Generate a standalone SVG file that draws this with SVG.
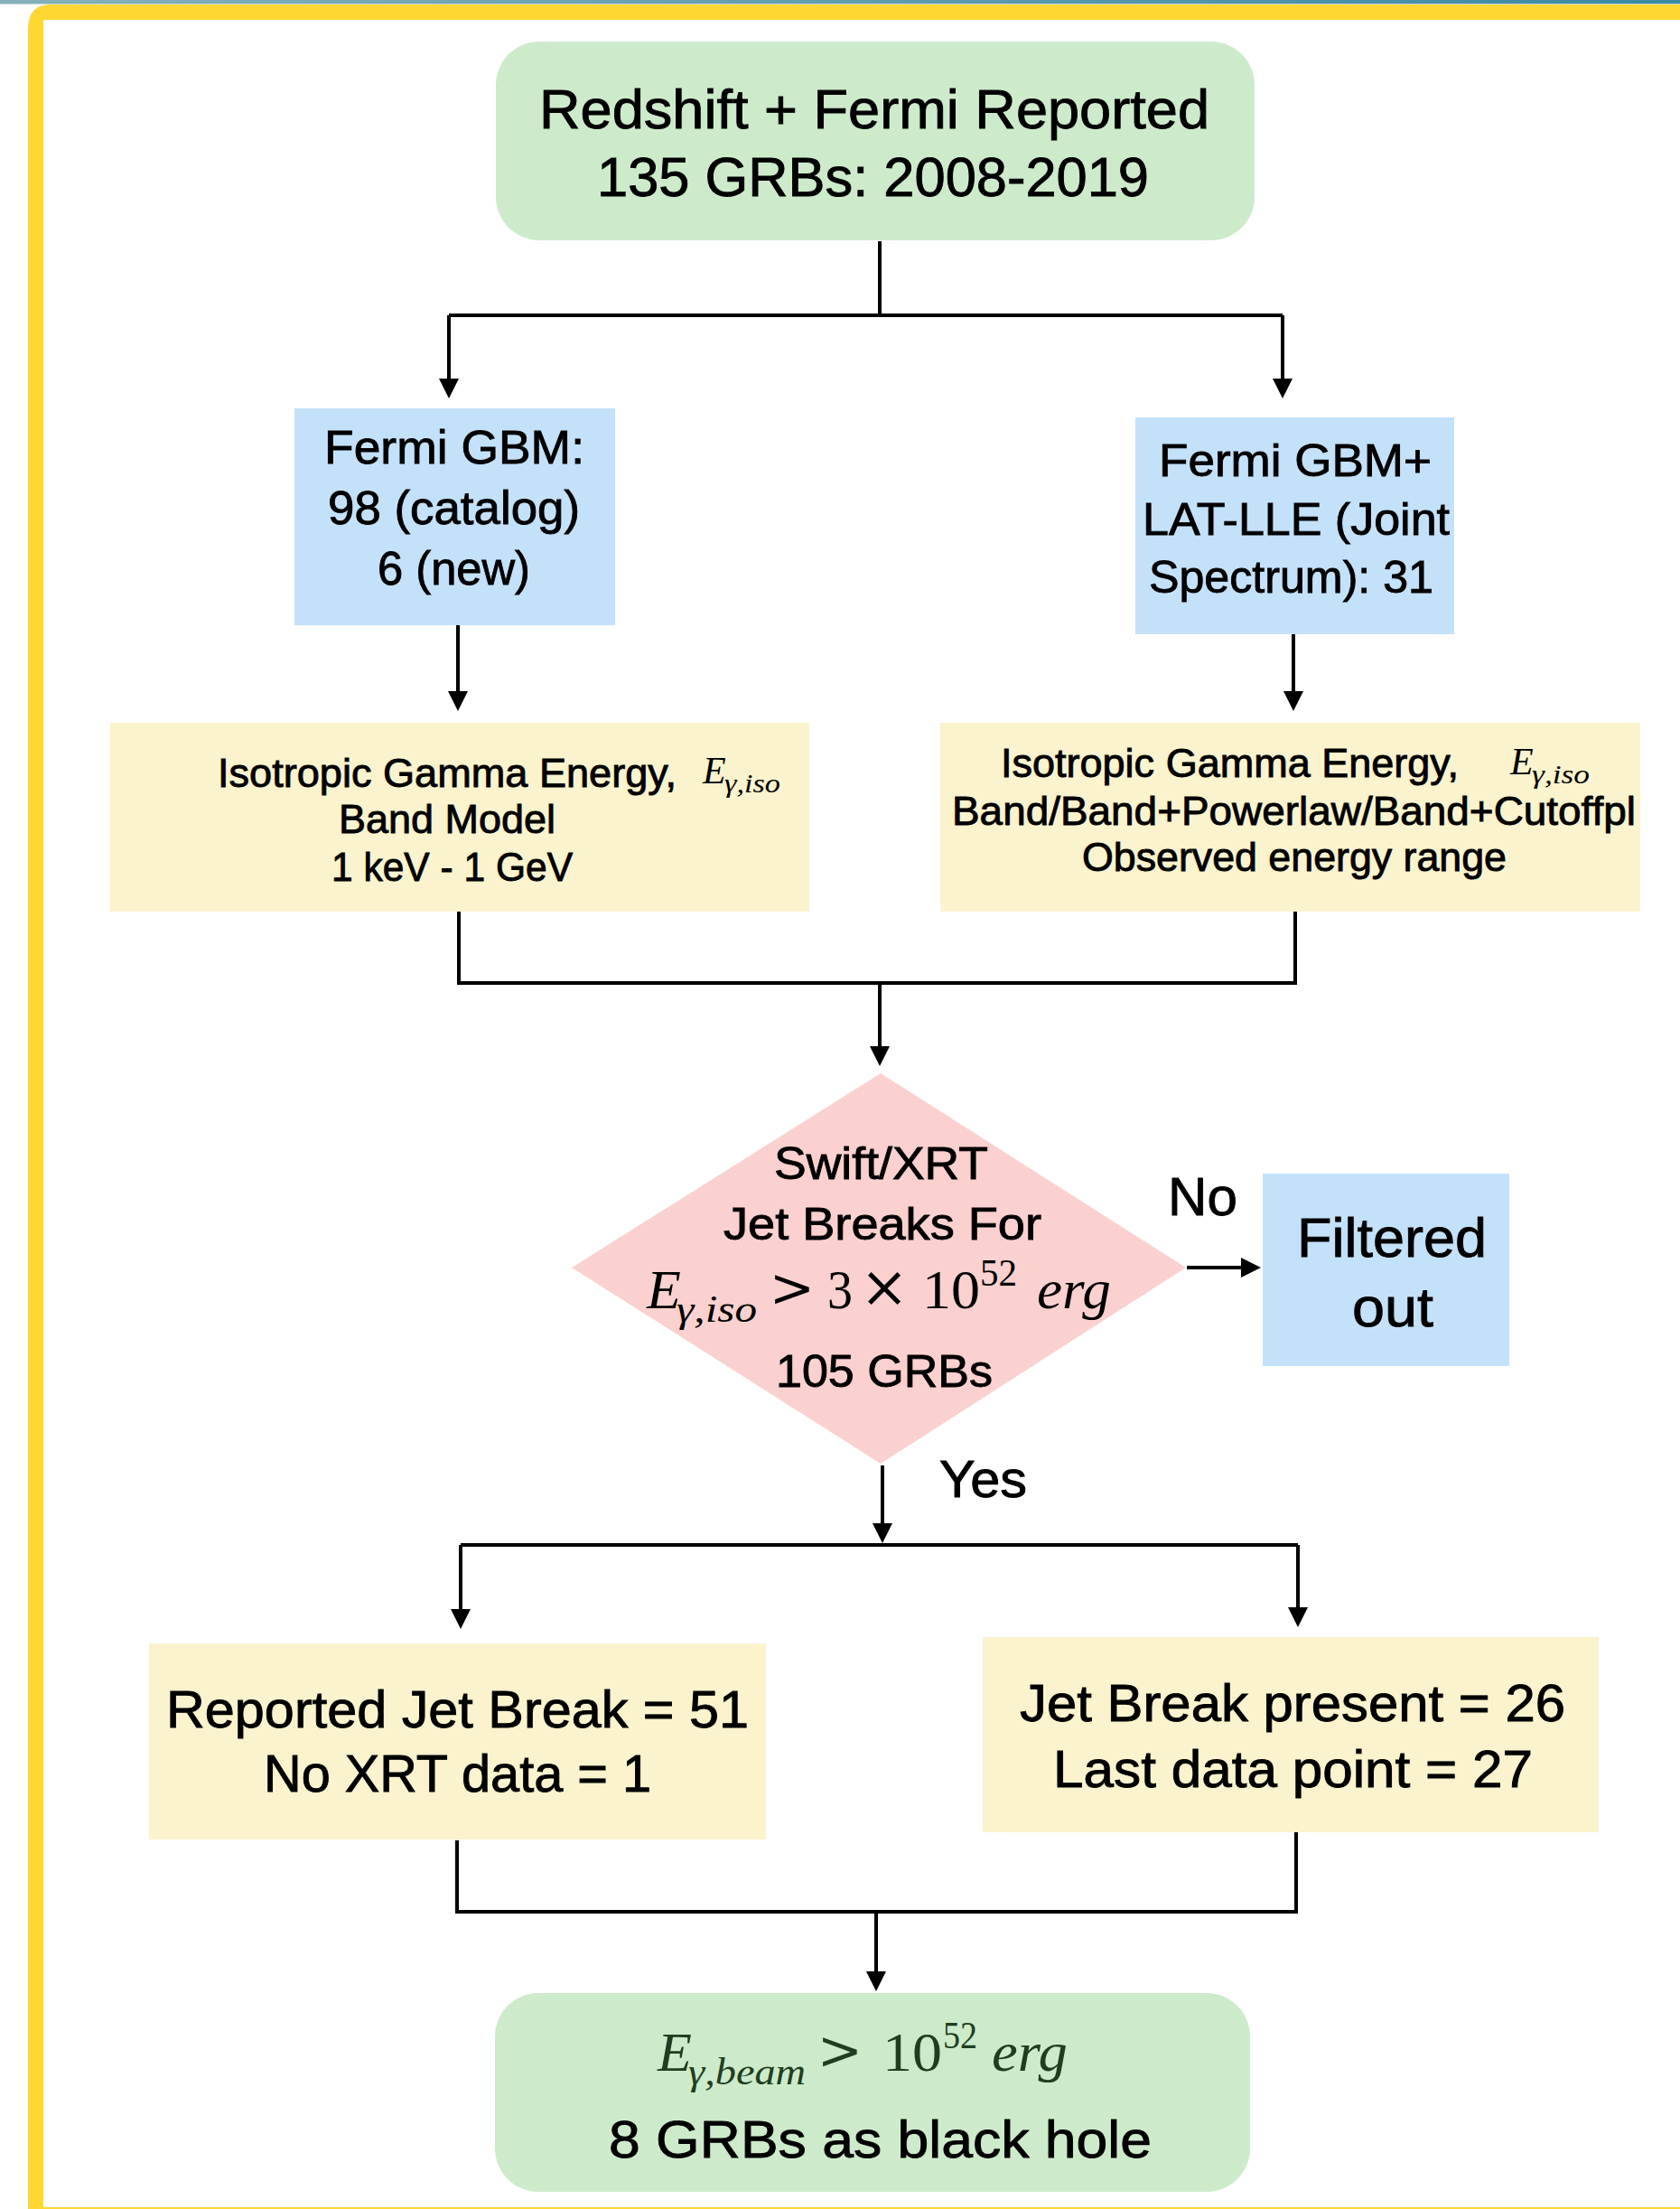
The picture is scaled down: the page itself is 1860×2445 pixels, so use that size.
<svg xmlns="http://www.w3.org/2000/svg" width="1860" height="2445" viewBox="0 0 1860 2445">
<defs>
<linearGradient id="teal" x1="0" y1="0" x2="1" y2="0">
<stop offset="0" stop-color="#86b1b8"/>
<stop offset="1" stop-color="#3c8aa2"/>
</linearGradient>
<marker id="arr" viewBox="0 0 22 22" refX="4" refY="11" markerWidth="22" markerHeight="22" markerUnits="userSpaceOnUse" orient="auto">
<path d="M0,0 L22,11 L0,22 Z" fill="#000"/>
</marker>
<style>
.t{font-family:"Liberation Sans",Arial,Helvetica,sans-serif;fill:#000;stroke:#000;stroke-width:0.9}
.m{font-family:"Liberation Serif","Times New Roman",serif;fill:#000}
.o{font-family:"DejaVu Serif","Liberation Serif",serif;fill:#000;text-anchor:middle}
.i{font-style:italic}
.g{fill:#213d21}
.c{fill:none;stroke:#000;stroke-width:4}
.a{marker-end:url(#arr)}
.green{fill:#cdebcb}
.blue{fill:#c4e1fa}
.yellow{fill:#faf3cd}
.pink{fill:#fad1ce}
</style>
</defs>
<rect x="0" y="0" width="1860" height="2445" fill="#fff"/>
<rect x="0" y="0" width="1860" height="4" fill="url(#teal)"/>
<rect x="0" y="4" width="1860" height="1" fill="#c9d9dd"/>
<path d="M31,2445 L31,30 Q32,5 56,5 L1860,5 L1860,2445 Z" fill="#fed733"/>
<rect x="48" y="22" width="1812" height="2421" fill="#fff"/>

<g id="connectors">
<path class="c" d="M974,267 V349"/>
<path class="c" d="M497,349 H1420"/>
<path class="c a" d="M497,349 V423"/>
<path class="c a" d="M1420,349 V423"/>
<path class="c a" d="M507,692 V769"/>
<path class="c a" d="M1432,702 V769"/>
<path class="c" d="M508,1009 V1088 H1434 V1009"/>
<path class="c a" d="M974,1088 V1162"/>
<path class="c a" d="M1314,1403 H1378"/>
<path class="c a" d="M977,1622 V1690"/>
<path class="c" d="M510,1710 H1437"/>
<path class="c a" d="M510,1710 V1785"/>
<path class="c a" d="M1437,1710 V1783"/>
<path class="c" d="M506,2037 V2116 H1435 V2028"/>
<path class="c a" d="M970,2116 V2186"/>
<text class="t" x="1293" y="1345" font-size="60" textLength="77" lengthAdjust="spacingAndGlyphs">No</text>
<text class="t" x="1040" y="1657" font-size="58" textLength="97" lengthAdjust="spacingAndGlyphs">Yes</text>
</g>

<g id="start">
<rect class="green" x="549" y="46" width="840" height="220" rx="48" ry="48"/>
<text class="t" x="597" y="142" font-size="61" textLength="742" lengthAdjust="spacingAndGlyphs">Redshift + Fermi Reported</text>
<text class="t" x="661" y="217" font-size="61" textLength="611" lengthAdjust="spacingAndGlyphs">135 GRBs: 2008-2019</text>
</g>

<g id="gbm">
<rect class="blue" x="326" y="452" width="355" height="240"/>
<text class="t" x="359" y="513" font-size="52" textLength="288" lengthAdjust="spacingAndGlyphs">Fermi GBM:</text>
<text class="t" x="363" y="580" font-size="52" textLength="279" lengthAdjust="spacingAndGlyphs">98 (catalog)</text>
<text class="t" x="418" y="647" font-size="52" textLength="169" lengthAdjust="spacingAndGlyphs">6 (new)</text>
</g>

<g id="gbm-lle">
<rect class="blue" x="1257" y="462" width="353" height="240"/>
<text class="t" x="1283" y="527" font-size="50" textLength="302" lengthAdjust="spacingAndGlyphs">Fermi GBM+</text>
<text class="t" x="1265" y="592" font-size="50" textLength="340" lengthAdjust="spacingAndGlyphs">LAT-LLE (Joint</text>
<text class="t" x="1272" y="656" font-size="50" textLength="315" lengthAdjust="spacingAndGlyphs">Spectrum): 31</text>
</g>

<g id="eiso-left">
<rect class="yellow" x="122" y="800" width="774" height="209"/>
<text class="t" x="241" y="871" font-size="45" textLength="508" lengthAdjust="spacingAndGlyphs">Isotropic Gamma Energy,</text>
<text class="m i" x="778" y="867" font-size="42">E</text>
<text class="m i" x="802" y="877" font-size="29" textLength="62" lengthAdjust="spacingAndGlyphs">γ,iso</text>
<text class="t" x="375" y="922" font-size="45" textLength="240" lengthAdjust="spacingAndGlyphs">Band Model</text>
<text class="t" x="367" y="975" font-size="45" textLength="267" lengthAdjust="spacingAndGlyphs">1 keV - 1 GeV</text>
</g>

<g id="eiso-right">
<rect class="yellow" x="1041" y="800" width="775" height="209"/>
<text class="t" x="1108" y="860" font-size="45" textLength="507" lengthAdjust="spacingAndGlyphs">Isotropic Gamma Energy,</text>
<text class="m i" x="1672" y="857" font-size="42">E</text>
<text class="m i" x="1696" y="867" font-size="29" textLength="64" lengthAdjust="spacingAndGlyphs">γ,iso</text>
<text class="t" x="1054" y="913" font-size="45" textLength="757" lengthAdjust="spacingAndGlyphs">Band/Band+Powerlaw/Band+Cutoffpl</text>
<text class="t" x="1198" y="964" font-size="45" textLength="470" lengthAdjust="spacingAndGlyphs">Observed energy range</text>
</g>

<g id="decision">
<polygon class="pink" points="975,1188 1313,1403 975,1620 633,1403"/>
<text class="t" x="857" y="1305" font-size="50" textLength="237" lengthAdjust="spacingAndGlyphs">Swift/XRT</text>
<text class="t" x="801" y="1372" font-size="50" textLength="352" lengthAdjust="spacingAndGlyphs">Jet Breaks For</text>
<text class="m i" x="716" y="1448" font-size="62">E</text>
<text class="m i" x="749" y="1463" font-size="42" textLength="89" lengthAdjust="spacingAndGlyphs">γ,iso</text>
<text class="o" x="877" y="1446" font-size="60">&gt;</text>
<text class="m" x="916" y="1448" font-size="62" textLength="28" lengthAdjust="spacingAndGlyphs">3</text>
<text class="o" x="979" y="1446" font-size="64">×</text>
<text class="m" x="1021" y="1448" font-size="62" textLength="64" lengthAdjust="spacingAndGlyphs">10</text>
<text class="m" x="1085" y="1423" font-size="42" textLength="41" lengthAdjust="spacingAndGlyphs">52</text>
<text class="m i" x="1148" y="1448" font-size="62" textLength="82" lengthAdjust="spacingAndGlyphs">erg</text>
<text class="t" x="859" y="1535" font-size="50" textLength="240" lengthAdjust="spacingAndGlyphs">105 GRBs</text>
</g>

<g id="filtered">
<rect class="blue" x="1398" y="1299" width="273" height="213"/>
<text class="t" x="1436" y="1391" font-size="62" textLength="210" lengthAdjust="spacingAndGlyphs">Filtered</text>
<text class="t" x="1497" y="1468" font-size="62" textLength="90" lengthAdjust="spacingAndGlyphs">out</text>
</g>

<g id="reported">
<rect class="yellow" x="165" y="1819" width="683" height="217"/>
<text class="t" x="184" y="1912" font-size="57" textLength="645" lengthAdjust="spacingAndGlyphs">Reported Jet Break = 51</text>
<text class="t" x="292" y="1983" font-size="57" textLength="429" lengthAdjust="spacingAndGlyphs">No XRT data = 1</text>
</g>

<g id="present">
<rect class="yellow" x="1088" y="1812" width="682" height="216"/>
<text class="t" x="1129" y="1905" font-size="57" textLength="604" lengthAdjust="spacingAndGlyphs">Jet Break present = 26</text>
<text class="t" x="1166" y="1978" font-size="57" textLength="531" lengthAdjust="spacingAndGlyphs">Last data point = 27</text>
</g>

<g id="result">
<rect class="green" x="548" y="2206" width="836" height="220" rx="48" ry="48"/>
<text class="m i g" x="728" y="2292" font-size="62">E</text>
<text class="m i g" x="762" y="2307" font-size="42" textLength="130" lengthAdjust="spacingAndGlyphs">γ,beam</text>
<text class="o g" x="930" y="2290" font-size="60">&gt;</text>
<text class="m g" x="977" y="2292" font-size="62" textLength="66" lengthAdjust="spacingAndGlyphs">10</text>
<text class="m g" x="1044" y="2267" font-size="42" textLength="38" lengthAdjust="spacingAndGlyphs">52</text>
<text class="m i g" x="1098" y="2292" font-size="62" textLength="84" lengthAdjust="spacingAndGlyphs">erg</text>
<text class="t" x="674" y="2388" font-size="58" textLength="601" lengthAdjust="spacingAndGlyphs">8 GRBs as black hole</text>
</g>
</svg>
